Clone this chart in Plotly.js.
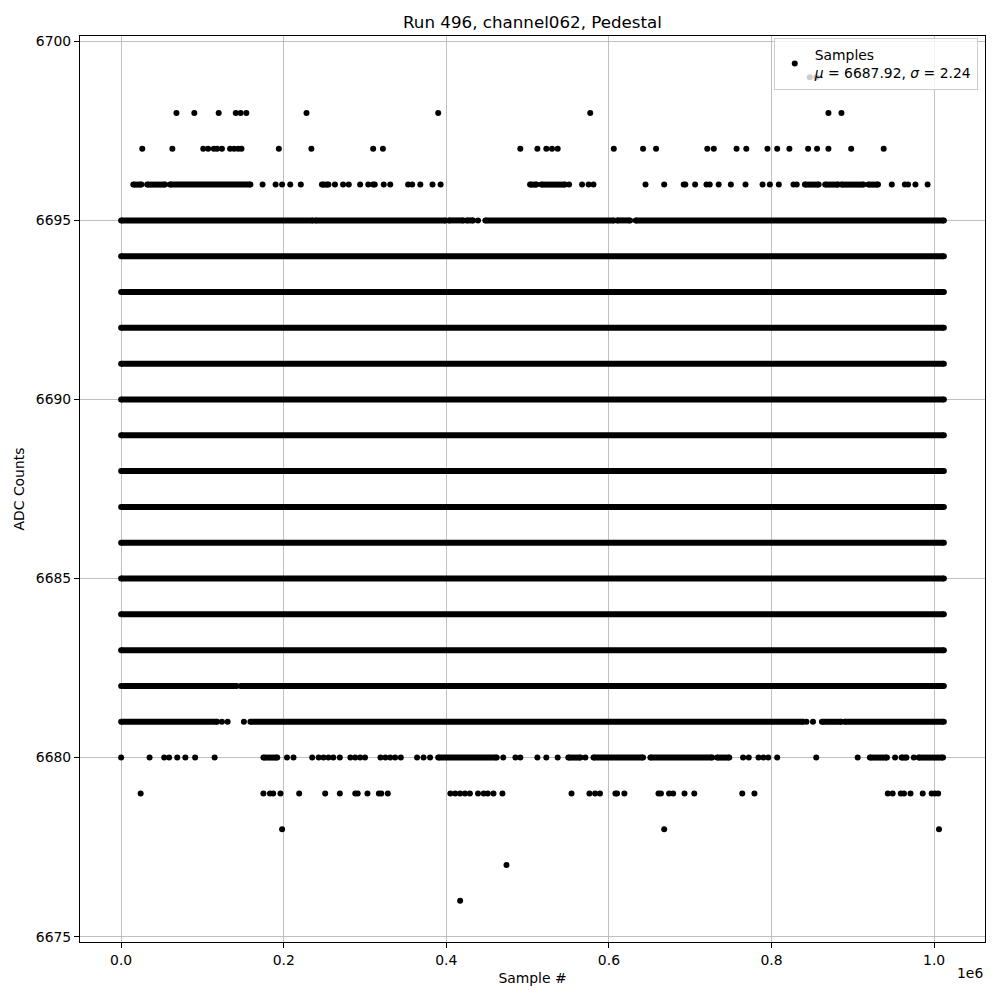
<!DOCTYPE html>
<html><head><meta charset="utf-8">
<script src="https://cdn.plot.ly/plotly-3.0.1.min.js"></script>
<style>body{margin:0;background:#fff}</style>
</head><body><div id="chart" style="width:1000px;height:1000px"></div>
<script>
// Sample positions are in thousands of samples (k); levels are ADC counts.
const fullRows = [6683, 6684, 6685, 6686, 6687, 6688, 6689, 6690, 6691, 6692, 6693, 6694];
const fullSpan = [0, 1012];

const segs6695 = [[0,236],[239,399],[403,421],[425,433],[448,606],[610,626],[633,1012]];
const pts6695 = [439];

const segs6696 = [[15,25],[32,54],[60,159],[247,255],[503,511],[517,546],[841,858],[866,882],[886,913],[919,931]];
const pts6696 = [174,190,198,208,221,263,273,280,294,304,310,312,323,331,353,358,368,383,393,
                 551,567,575,581,645,668,692,694,706,720,724,735,750,768,789,798,809,827,831,948,964,968,977,992];

const pts6697 = [26,63,101,107,114,118,124,134,139,144,148,194,234,310,322,491,
                 512,523,530,537,606,642,658,721,729,757,769,795,807,822,845,856,870,898,938];

const pts6698 = [68,90,120,141,147,154,228,390,577,870,886];
const pts6699 = [847,855];

const segs6682 = [[0,142],[147,1012]];
const segs6681 = [[0,118],[159,839],[862,886],[890,1012]];
const pts6681 = [124,131,151,843,851];

const segs6680 = [[175,192],[390,462],[550,565],[581,642],[651,727],[733,748],[921,942],[960,966],[981,1011]];
const pts6680 = [0,35,53,59,69,79,91,115,204,212,235,243,249,255,261,269,282,288,294,300,
                 319,325,331,337,344,364,372,380,470,485,491,512,523,537,571,765,772,784,790,796,807,855,906,952,975];

const pts6679 = [24,175,183,187,196,219,251,269,288,291,303,317,320,328,405,411,417,423,429,439,446,451,458,469,
                 554,576,583,589,608,610,619,661,664,674,679,693,705,764,779,943,949,959,963,971,986,997,1001,1005];
const pts6678 = [198,668,1006];
const pts6677 = [474];
const pts6676 = [417];

const xTickVals = [0, 0.2, 0.4, 0.6, 0.8, 1.0];
const xTickText = ['0.0','0.2','0.4','0.6','0.8','1.0'];
const yTickVals = [6675, 6680, 6685, 6690, 6695, 6700];
const legendLabel = 'Samples<br><i>μ</i> = 6687.92, <i>σ</i> = 2.24';

// ---- build traces ----
const K = 1000;
const lx = [], ly = [], mx = [], my = [];
function addSegs(level, segs) {
  segs.forEach(s => {
    lx.push(s[0]*K, s[1]*K, null); ly.push(level, level, null);
    mx.push(s[0]*K, s[1]*K); my.push(level, level);
  });
}
function addPts(level, pts) {
  pts.forEach(p => { mx.push(p*K); my.push(level); });
}
fullRows.forEach(r => addSegs(r, [fullSpan]));
addSegs(6695, segs6695); addPts(6695, pts6695);
addSegs(6696, segs6696); addPts(6696, pts6696);
addPts(6697, pts6697); addPts(6698, pts6698); addPts(6699, pts6699);
addSegs(6682, segs6682);
addSegs(6681, segs6681); addPts(6681, pts6681);
addSegs(6680, segs6680); addPts(6680, pts6680);
addPts(6679, pts6679); addPts(6678, pts6678); addPts(6677, pts6677); addPts(6676, pts6676);

const font = 'DejaVu Sans, sans-serif';
const traces = [
  {x: lx, y: ly, mode: 'lines', line: {color: '#000', width: 6}, showlegend: false, hoverinfo: 'skip', connectgaps: false},
  {x: mx, y: my, mode: 'markers', marker: {color: '#000', size: 6}, name: legendLabel}
];

const layout = {
  width: 1000, height: 1000,
  margin: {l: 80, r: 15, t: 36, b: 58},
  paper_bgcolor: '#fff', plot_bgcolor: '#fff',
  font: {family: font, size: 13.9, color: '#000'},
  title: {text: 'Run 496, channel062, Pedestal', font: {family: font, size: 16.7, color: '#000'},
          x: 0.5325, xanchor: 'center', y: 0.978, yref: 'container', yanchor: 'middle'},
  xaxis: {range: [-50600, 1062600], tickvals: xTickVals.map(v => v*1e6), ticktext: xTickText,
          showgrid: true, gridcolor: '#b0b0b0', gridwidth: 0.8, zeroline: false,
          showline: true, linecolor: '#000', linewidth: 1, mirror: true,
          ticks: 'outside', ticklen: 5, tickcolor: '#000', tickfont: {size: 13.9},
          title: {text: 'Sample #', font: {size: 13.9}, standoff: 6}},
  yaxis: {range: [6674.85, 6700.15], tickvals: yTickVals,
          showgrid: true, gridcolor: '#b0b0b0', gridwidth: 0.8, zeroline: false,
          showline: true, linecolor: '#000', linewidth: 1, mirror: true,
          ticks: 'outside', ticklen: 5, tickcolor: '#000', tickfont: {size: 13.9},
          title: {text: 'ADC Counts', font: {size: 13.9}, standoff: 7}},
  legend: {x: 0.992, xanchor: 'right', y: 0.998, yanchor: 'top',
           bgcolor: 'rgba(255,255,255,0.8)', bordercolor: '#cccccc', borderwidth: 1,
           font: {size: 13.9}},
  annotations: [{text: '1e6', xref: 'paper', yref: 'paper', x: 1, xanchor: 'right', y: -0.0342, yanchor: 'middle',
                 showarrow: false, font: {size: 13.9}}]
};
Plotly.newPlot('chart', traces, layout, {staticPlot: true});
</script></body></html>
